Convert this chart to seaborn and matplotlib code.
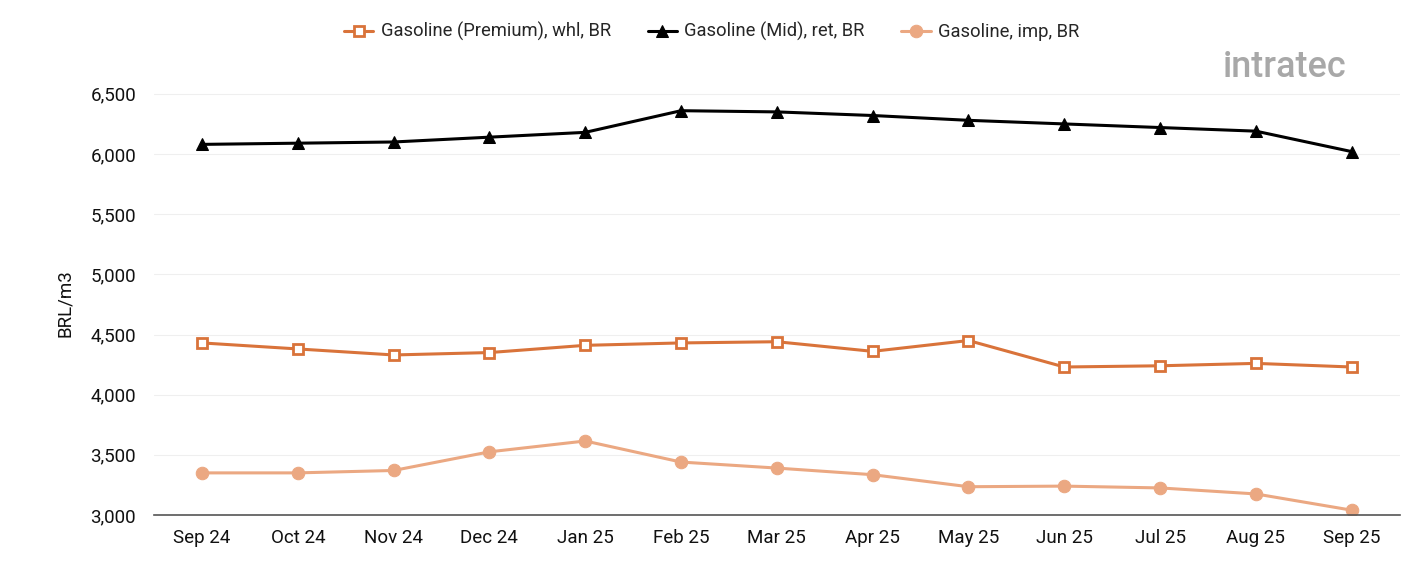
import numpy as np
import pandas as pd
import matplotlib
matplotlib.use("Agg")
import matplotlib.pyplot as plt
from matplotlib.ticker import FuncFormatter
import seaborn as sns

months = ["Sep 24", "Oct 24", "Nov 24", "Dec 24", "Jan 25", "Feb 25", "Mar 25",
          "Apr 25", "May 25", "Jun 25", "Jul 25", "Aug 25", "Sep 25"]
premium_whl = [4430, 4380, 4330, 4350, 4410, 4430, 4440, 4360, 4450, 4230, 4240, 4260, 4230]
mid_ret = [6080, 6090, 6100, 6140, 6180, 6360, 6350, 6320, 6280, 6250, 6220, 6190, 6020]
gasoline_imp = [3350, 3350, 3370, 3525, 3615, 3440, 3390, 3335, 3235, 3240, 3225, 3175, 3040]

series_names = ["Gasoline (Premium), whl, BR", "Gasoline (Mid), ret, BR", "Gasoline, imp, BR"]

df = pd.DataFrame({"month": months * 3,
                   "value": premium_whl + mid_ret + gasoline_imp,
                   "series": np.repeat(series_names, len(months))})

sns.set_theme(style="white")
plt.rcParams['font.family'] = ['Roboto', 'DejaVu Sans']

fig = plt.figure(figsize=(14.01, 5.61), dpi=100)
ax = fig.add_axes([0.110, 0.082, 0.889, 0.755])

palette = {series_names[0]: "#D9733A", series_names[1]: "#000000", series_names[2]: "#EBA882"}
markers = {series_names[0]: "s", series_names[1]: "^", series_names[2]: "o"}

ax.set_axisbelow(True)
ax.yaxis.grid(True, color="#EFEFEF", linewidth=0.8)

x = np.arange(len(months))
for name in series_names:
    sub = df[df["series"] == name]
    kw = dict(color=palette[name], marker=markers[name], markersize=9, linewidth=2.2,
              markeredgecolor=palette[name], label=name)
    if name == series_names[0]:
        kw.update(markerfacecolor="white", markeredgewidth=2, markersize=7.5)
    sns.lineplot(x=x, y=sub["value"].values, ax=ax, legend=False, **kw)

ax.set_xlim(-0.5, len(months) - 0.5)
ax.set_ylim(3000, 6520)
ax.set_yticks(np.arange(3000, 6501, 500))
ax.yaxis.set_major_formatter(FuncFormatter(lambda v, p: f"{int(v):,}"))
ax.set_xticks(x)
ax.set_xticklabels(months)
ax.tick_params(axis="both", length=0, labelsize=13.5, colors="#111111")
ax.tick_params(axis="x", pad=10)
ax.tick_params(axis="y", pad=13)
ax.set_ylabel("BRL/m3", fontsize=13.5, color="#111111", labelpad=12)
ax.set_xlabel("")

for s in ["top", "right", "left"]:
    ax.spines[s].set_visible(False)
ax.spines["bottom"].set_color("#555555")
ax.spines["bottom"].set_linewidth(1.2)

handles, labels = ax.get_legend_handles_labels()
fig.legend(handles, labels, loc="upper center", bbox_to_anchor=(0.508, 0.99), ncol=3,
           frameon=False, fontsize=13.2, handlelength=1.6, columnspacing=2.0, handletextpad=0.4)

fig.text(0.873, 0.88, "intratec", fontsize=26, color="#A8A8A8", fontweight="medium", ha="left", va="center")

fig.savefig("out.png", dpi=100, facecolor="white")
